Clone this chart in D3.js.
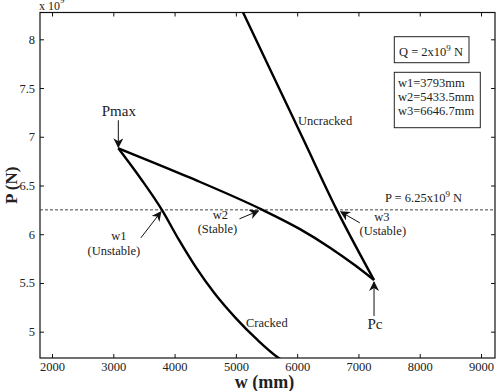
<!DOCTYPE html>
<html>
<head>
<meta charset="utf-8">
<script src="https://cdn.jsdelivr.net/npm/d3@7"></script>
<style>
  body { margin: 0; background: #fff; }
  text { font-family: "Liberation Serif", "Times New Roman", serif; fill: #222; }
</style>
</head>
<body>
<div id="chart"></div>
<script>
// ticks
var wTicks = [2000, 3000, 4000, 5000, 6000, 7000, 8000, 9000];
var pTicks = [5, 5.5, 6, 6.5, 7, 7.5, 8];

// curves, P in units of 1e9 N
var crackedW = [3082, 3452, 3793, 4072, 4341, 4651, 5002, 5353, 5704, 5883];
var crackedP = [6.882, 6.567, 6.25, 5.941, 5.667, 5.394, 5.137, 4.915, 4.727, 4.658];

var uncrackedW = [5050, 5600, 6100, 6646.7, 7254];
var uncrackedP = [8.365, 7.636, 6.974, 6.25, 5.53];

var loadW = [3082, 4252, 5433.5, 6046, 6536, 6944, 7254];
var loadP = [6.882, 6.58, 6.25, 6.052, 5.862, 5.681, 5.53];

var pLevel = 6.25;
var roots = [3793, 5433.5, 6646.7];
var rootNames = ["w1", "w2", "w3"];
var rootStates = ["(Unstable)", "(Stable)", "(Ustable)"];
var boxLines = ["w1=3793mm", "w2=5433.5mm", "w3=6646.7mm"];

function zip(ws, ps) {
    var out = [];
    for (var i = 0; i < ws.length; i++) out.push({ x: ws[i], y: ps[i] });
    return out;
}

var W = 499, H = 391;
var margin = { top: 12.5, right: 4, bottom: 33, left: 40 };
var width = W - margin.left - margin.right;
var height = H - margin.top - margin.bottom;

var svg = d3.select("#chart").append("svg")
    .attr("width", W).attr("height", H);

var defs = svg.append("defs");
defs.append("clipPath").attr("id", "clip")
    .append("rect").attr("width", width).attr("height", height);
defs.append("marker")
    .attr("id", "arrow")
    .attr("viewBox", "0 0 10 10")
    .attr("refX", 9).attr("refY", 5)
    .attr("markerWidth", 10).attr("markerHeight", 10)
    .attr("markerUnits", "userSpaceOnUse")
    .attr("orient", "auto")
    .append("path")
    .attr("d", "M0,0 L10,5 L0,10 L3,5 Z")
    .attr("fill", "#111");

var g = svg.append("g")
    .attr("transform", "translate(" + margin.left + "," + margin.top + ")");

var xScale = d3.scaleLinear().domain([1804, 9228]).range([0, width]);
var yScale = d3.scaleLinear().domain([4.73, 8.275]).range([height, 0]);

// axes, ticks pointing inward on all sides
function styleAxis(sel) {
    sel.select(".domain").remove();
    sel.selectAll("line").attr("stroke", "#111");
    sel.selectAll("text")
        .style("font-family", "Liberation Serif")
        .style("font-size", "12.5px")
        .attr("fill", "#222");
}
g.append("g").attr("transform", "translate(0," + height + ")")
    .call(d3.axisBottom(xScale).tickValues(wTicks).tickSize(-4).tickPadding(4).tickFormat(d3.format("d")))
    .call(styleAxis);
g.append("g")
    .call(d3.axisTop(xScale).tickValues(wTicks).tickSize(-4).tickFormat(""))
    .call(styleAxis);
g.append("g")
    .call(d3.axisLeft(yScale).tickValues(pTicks).tickSize(-4).tickPadding(5).tickFormat(d3.format("")))
    .call(styleAxis);
g.append("g").attr("transform", "translate(" + width + ",0)")
    .call(d3.axisRight(yScale).tickValues(pTicks).tickSize(-4).tickFormat(""))
    .call(styleAxis);

g.append("rect")
    .attr("width", width).attr("height", height)
    .attr("fill", "none").attr("stroke", "#111").attr("stroke-width", 1.2);

// dashed load level
g.append("line")
    .attr("x1", 0).attr("x2", width)
    .attr("y1", yScale(pLevel)).attr("y2", yScale(pLevel))
    .attr("stroke", "#444").attr("stroke-width", 1)
    .attr("stroke-dasharray", "3,2");

var line = d3.line()
    .x(function (d) { return xScale(d.x); })
    .y(function (d) { return yScale(d.y); })
    .curve(d3.curveMonotoneX);

var curves = g.append("g").attr("clip-path", "url(#clip)");
[zip(crackedW, crackedP), zip(uncrackedW, uncrackedP), zip(loadW, loadP)].forEach(function (data) {
    curves.append("path")
        .datum(data)
        .attr("d", line)
        .attr("fill", "none")
        .attr("stroke", "#000")
        .attr("stroke-width", 2.4)
        .attr("stroke-linejoin", "round");
});

function arrow(x1, y1, x2, y2) {
    g.append("line")
        .attr("x1", x1).attr("y1", y1).attr("x2", x2).attr("y2", y2)
        .attr("stroke", "#111").attr("stroke-width", 1)
        .attr("marker-end", "url(#arrow)");
}
function label(x, y, txt, size, anchor) {
    return g.append("text")
        .attr("x", x).attr("y", y)
        .attr("text-anchor", anchor || "middle")
        .style("font-size", size + "px")
        .text(txt);
}

// Pmax and Pc
var pmax = { x: loadW[0], y: loadP[0] };
var pc = { x: loadW[loadW.length - 1], y: loadP[loadP.length - 1] };
arrow(xScale(pmax.x), yScale(pmax.y) - 28, xScale(pmax.x), yScale(pmax.y) - 1);
label(xScale(pmax.x) + 0.5, yScale(pmax.y) - 32, "Pmax", 15);
arrow(xScale(pc.x), yScale(pc.y) + 36, xScale(pc.x), yScale(pc.y) + 2);
label(xScale(pc.x) + 1, yScale(pc.y) + 49, "Pc", 15);

// root annotations
var yl = yScale(pLevel);
arrow(xScale(roots[0]) - 21, yl + 28, xScale(roots[0]) - 1, yl + 2);
label(xScale(roots[0]) - 43, yl + 30, rootNames[0], 12.5);
label(xScale(roots[0]) - 48, yl + 45, rootStates[0], 12.5);
arrow(xScale(roots[1]) - 23, yl + 9, xScale(roots[1]) - 4, yl + 1);
label(xScale(roots[1]) - 42, yl + 9, rootNames[1], 12.5);
label(xScale(roots[1]) - 45, yl + 23, rootStates[1], 12.5);
arrow(xScale(roots[2]) + 23, yl + 13, xScale(roots[2]) + 4, yl + 2);
label(xScale(roots[2]) + 45, yl + 11, rootNames[2], 12.5);
label(xScale(roots[2]) + 46, yl + 25, rootStates[2], 12.5);

// curve names
label(258, 112, "Uncracked", 12.5, "start");
label(206, 314, "Cracked", 12.5, "start");

// load level text
var pt = label(345, yl - 8, "P = 6.25x10", 12.5, "start");
pt.append("tspan").attr("dy", -5).style("font-size", "9px").text("9");
pt.append("tspan").attr("dy", 5).text(" N");

// boxes
g.append("rect").attr("x", 354.3).attr("y", 24.2).attr("width", 74.7).attr("height", 26)
    .attr("fill", "#fff").attr("stroke", "#222").attr("stroke-width", 1);
var qt = label(359, 43, "Q = 2x10", 12.5, "start");
qt.append("tspan").attr("dy", -5).style("font-size", "9px").text("9");
qt.append("tspan").attr("dy", 5).text(" N");

g.append("rect").attr("x", 354.3).attr("y", 59.8).attr("width", 86).attr("height", 55.4)
    .attr("fill", "#fff").attr("stroke", "#222").attr("stroke-width", 1);
boxLines.forEach(function (t, i) {
    label(358, 74.5 + i * 14, t, 12.5, "start");
});

// axis titles
svg.append("text")
    .attr("x", margin.left + width / 2 - 3).attr("y", 388)
    .attr("text-anchor", "middle")
    .style("font-size", "18px").style("font-weight", "bold")
    .text("w (mm)");
svg.append("text")
    .attr("transform", "translate(17," + (margin.top + height / 2) + ") rotate(-90)")
    .attr("text-anchor", "middle")
    .style("font-size", "17px").style("font-weight", "bold")
    .text("P (N)");

// exponent (cut off at the top edge as in the original)
var ex = svg.append("text").attr("x", 39).attr("y", 9.5).style("font-size", "12px").text("x 10");
ex.append("tspan").attr("dy", -7).style("font-size", "9px").text("9");
</script>
</body>
</html>
